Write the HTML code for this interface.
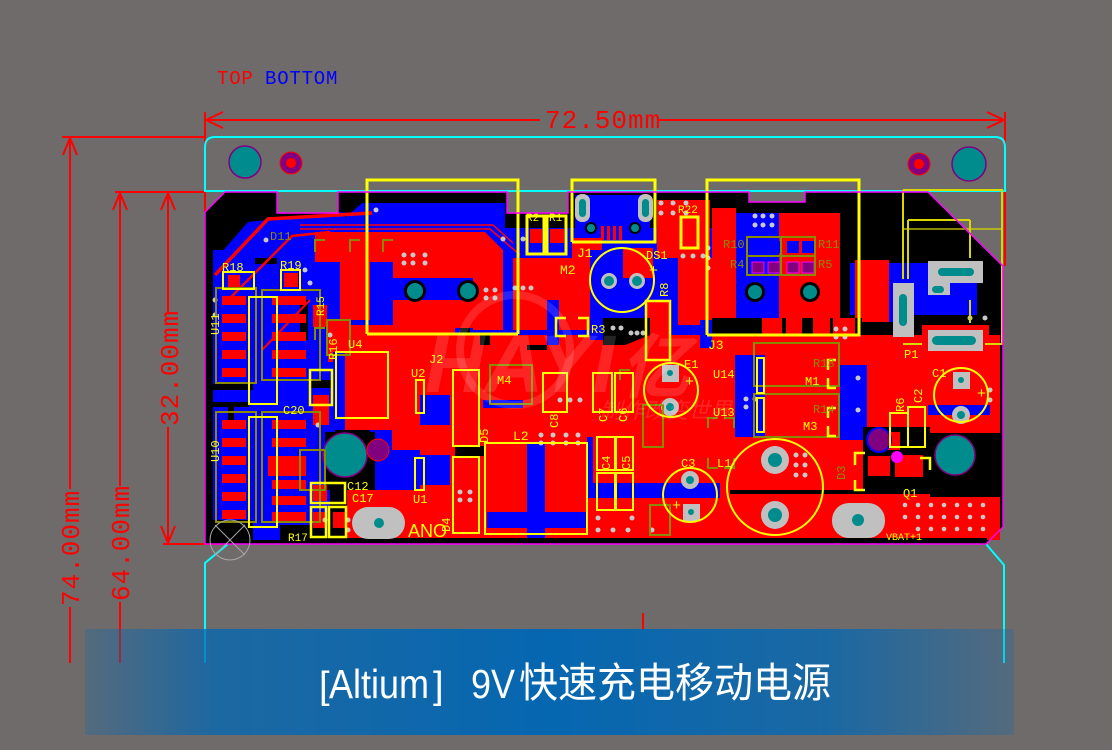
<!DOCTYPE html>
<html><head><meta charset="utf-8">
<style>
html,body{margin:0;padding:0;width:1112px;height:750px;overflow:hidden;background:#6f6b6b;}
svg{position:absolute;left:0;top:0;display:block}
</style></head><body>
<svg width="1112" height="750" viewBox="0 0 1112 750" xmlns="http://www.w3.org/2000/svg">
<defs>
<linearGradient id="bg" x1="0" y1="0" x2="1" y2="0">
<stop offset="0" stop-color="#0567b1" stop-opacity="0.25"/>
<stop offset="0.14" stop-color="#0567b1" stop-opacity="0.78"/>
<stop offset="0.5" stop-color="#0567b1" stop-opacity="1"/>
<stop offset="0.8" stop-color="#0567b1" stop-opacity="0.8"/>
<stop offset="1" stop-color="#0567b1" stop-opacity="0.25"/>
</linearGradient>
</defs>
<rect width="1112" height="750" fill="#6f6b6b"/>

<text x="217" y="84" font-family="Liberation Mono, monospace" font-size="19" fill="#ff0000" letter-spacing="0.8">TOP</text>
<text x="265" y="84" font-family="Liberation Mono, monospace" font-size="19" fill="#0000ff" letter-spacing="0.8">BOTTOM</text>

<g stroke="#ff0000" stroke-width="2" fill="none">
<line x1="205" y1="120" x2="540" y2="120"/>
<line x1="657" y1="120" x2="1005" y2="120"/>
<polyline points="223,112 206,120 223,128"/>
<polyline points="987,112 1004,120 987,128"/>
<line x1="205" y1="112" x2="205" y2="212"/>
<line x1="1005" y1="112" x2="1005" y2="266"/>
<line x1="62" y1="137" x2="205" y2="137"/>
<line x1="70" y1="137" x2="70" y2="489"/>
<line x1="70" y1="607" x2="70" y2="663"/>
<polyline points="63,155 70,138 77,155"/>
<line x1="115" y1="192" x2="205" y2="192"/>
<line x1="120" y1="192" x2="120" y2="486"/>
<line x1="120" y1="602" x2="120" y2="663"/>
<polyline points="113,210 120,193 127,210"/>
<line x1="168" y1="192" x2="168" y2="314"/>
<line x1="168" y1="427" x2="168" y2="544"/>
<polyline points="161,210 168,193 175,210"/>
<polyline points="161,526 168,543 175,526"/>
<line x1="163" y1="544" x2="228" y2="544"/>
<line x1="643" y1="613" x2="643" y2="630"/>
</g>
<g font-family="Liberation Mono, monospace" font-size="26" fill="#ff0000">
<text x="545" y="128" letter-spacing="1">72.50mm</text>
<text transform="translate(79,606) rotate(-90)" letter-spacing="1">74.00mm</text>
<text transform="translate(129,601) rotate(-90)" letter-spacing="1">64.00mm</text>
<text transform="translate(178,426) rotate(-90)" letter-spacing="1">32.00mm</text>
</g>

<g stroke="#00ffff" stroke-width="2" fill="none">
<path d="M205,192 L205,147 Q205,137 215,137 L995,137 Q1005,137 1005,147 L1005,192"/>
<line x1="205" y1="191" x2="1005" y2="191"/>
<polyline points="228,544 205,563 205,663"/>
<polyline points="986,544 1004,565 1004,663"/>
</g>
<circle cx="245" cy="162" r="16" fill="#008c8c" stroke="#800080" stroke-width="1.5"/>
<circle cx="291" cy="163" r="11" fill="#800080" stroke="#ff0000" stroke-width="1"/>
<circle cx="291" cy="163" r="5" fill="#ff0000"/>
<circle cx="919" cy="164" r="11" fill="#800080" stroke="#ff0000" stroke-width="1"/>
<circle cx="919" cy="164" r="5" fill="#ff0000"/>
<circle cx="969" cy="164" r="17" fill="#008c8c" stroke="#800080" stroke-width="1.5"/>

<polygon fill="#000" points="225,192 277,192 277,213 338,213 338,192 507,192 507,213 568,213 568,192 749,192 749,202 805,202 805,192 928,192 1003,266 1003,527 986,544 205,544 205,212"/>

<g fill="#0000ff">
<polygon points="213,262 248,222 345,212 345,250 213,250"/>
<rect x="213" y="250" width="122" height="290"/>
<polygon points="340,235 340,222 362,203 505,203 505,235"/>
<rect x="575" y="195" width="75" height="45"/>
<rect x="470" y="228" width="262" height="118"/>
<rect x="736" y="213" width="64" height="105"/>
<rect x="850" y="263" width="127" height="52"/>
<rect x="860" y="310" width="50" height="18"/>
<rect x="335" y="250" width="125" height="180"/>
<rect x="370" y="430" width="85" height="60"/>
</g>

<g fill="#000">
<rect x="213" y="384" width="40" height="6"/>
<rect x="213" y="402" width="36" height="5"/>
<rect x="213" y="520" width="40" height="20"/>
<rect x="255" y="258" width="22" height="6"/>
<rect x="300" y="300" width="8" height="40"/>
<rect x="310" y="380" width="25" height="8"/>
<rect x="280" y="525" width="55" height="15"/>
<rect x="228" y="405" width="6" height="20"/>
<rect x="325" y="432" width="50" height="58"/>
<rect x="330" y="490" width="20" height="50"/>
</g>

<g fill="#ff0000">
<polygon points="315,232 485,232 503,250 503,330 473,330 473,278 393,278 393,262 370,262 370,320 340,320 340,262 315,262"/>
<rect x="393" y="300" width="80" height="28"/>
<rect x="530" y="229" width="12" height="14"/>
<rect x="550" y="229" width="14" height="14"/>
<rect x="513" y="258" width="77" height="72"/>
<rect x="572" y="238" width="30" height="62"/>
<rect x="623" y="248" width="30" height="30"/>
<rect x="646" y="300" width="24" height="60"/>
<rect x="657" y="200" width="53" height="58"/>
<rect x="678" y="258" width="34" height="67"/>
<rect x="712" y="208" width="24" height="110"/>
<rect x="779" y="213" width="61" height="109"/>
<rect x="855" y="260" width="34" height="62"/>
<rect x="922" y="325" width="67" height="35"/>
<rect x="840" y="323" width="41" height="22"/>
<rect x="328" y="320" width="22" height="42"/>
<rect x="345" y="325" width="110" height="105"/>
<rect x="392" y="420" width="55" height="30"/>
<rect x="347" y="490" width="106" height="54"/>
<rect x="420" y="335" width="580" height="205"/>
<rect x="880" y="335" width="120" height="10"/>
<rect x="222" y="296" width="24" height="9"/><rect x="272" y="296" width="34" height="9"/>
<rect x="222" y="314" width="24" height="9"/><rect x="272" y="314" width="34" height="9"/>
<rect x="222" y="332" width="24" height="9"/><rect x="272" y="332" width="34" height="9"/>
<rect x="222" y="350" width="24" height="9"/><rect x="272" y="350" width="34" height="9"/>
<rect x="222" y="368" width="24" height="9"/><rect x="272" y="368" width="34" height="9"/>
<rect x="222" y="420" width="24" height="9"/><rect x="272" y="420" width="34" height="9"/>
<rect x="222" y="438" width="24" height="9"/><rect x="272" y="438" width="34" height="9"/>
<rect x="222" y="456" width="24" height="9"/><rect x="268" y="456" width="38" height="20"/>
<rect x="222" y="474" width="24" height="9"/><rect x="272" y="480" width="34" height="9"/>
<rect x="222" y="492" width="24" height="9"/><rect x="272" y="496" width="34" height="9"/>
<rect x="222" y="510" width="24" height="9"/><rect x="272" y="512" width="34" height="9"/>
<rect x="228" y="275" width="12" height="12"/>
<rect x="284" y="273" width="14" height="14"/>
<rect x="313" y="305" width="14" height="22"/>
<rect x="313" y="395" width="16" height="30"/>
<rect x="313" y="485" width="14" height="16"/>
<rect x="313" y="512" width="14" height="16"/>
<rect x="333" y="512" width="12" height="16"/>
</g>
<g stroke="#ff0000" fill="none">
<polyline points="215,275 268,219 372,213" stroke-width="3.5"/>
<polyline points="228,300 292,236 330,232" stroke-width="2.5"/>
<polyline points="300,225 493,225 513,243" stroke-width="1.5"/>
<polyline points="300,229 490,229 520,255" stroke-width="1.5"/>
<line x1="262" y1="350" x2="310" y2="300" stroke-width="2"/>
</g>

<g fill="#0000ff">
<rect x="375" y="278" width="98" height="22"/>
<rect x="333" y="352" width="12" height="66"/>
<rect x="420" y="395" width="30" height="30"/>
<rect x="395" y="455" width="55" height="30"/>
<rect x="547" y="300" width="12" height="45"/>
<rect x="590" y="250" width="33" height="90"/>
<rect x="653" y="258" width="25" height="40"/>
<rect x="527" y="443" width="18" height="97"/>
<rect x="487" y="512" width="100" height="16"/>
<rect x="587" y="483" width="133" height="15"/>
<rect x="735" y="355" width="30" height="82"/>
<rect x="840" y="365" width="27" height="75"/>
<rect x="928" y="405" width="62" height="10"/>
<rect x="587" y="437" width="6" height="60"/>
<rect x="700" y="320" width="12" height="28"/>
<rect x="483" y="400" width="40" height="8"/>
</g>

<g fill="#000">
<rect x="863" y="427" width="67" height="63"/>
<rect x="930" y="433" width="70" height="64"/>
<rect x="730" y="490" width="270" height="4"/>
<rect x="347" y="538" width="640" height="6"/>
<rect x="840" y="322" width="82" height="13"/>
<rect x="712" y="318" width="150" height="17"/>
<polygon points="603,318 650,318 650,335 625,345 603,345"/>
<rect x="455" y="446" width="30" height="10"/>
<rect x="480" y="335" width="10" height="10"/>
<rect x="527" y="345" width="20" height="5"/>
</g>
<g fill="#ff0000">
<rect x="762" y="318" width="20" height="30"/><rect x="786" y="318" width="16" height="30"/>
<rect x="813" y="318" width="17" height="30"/><rect x="833" y="318" width="22" height="30"/>
<rect x="868" y="456" width="22" height="20"/><rect x="880" y="432" width="20" height="18"/>
<rect x="895" y="455" width="28" height="22"/>
</g>

<g>
<circle cx="415" cy="291" r="11" fill="#000"/><circle cx="415" cy="291" r="8" fill="#008c8c"/>
<circle cx="468" cy="291" r="11" fill="#000"/><circle cx="468" cy="291" r="8" fill="#008c8c"/>
<circle cx="755" cy="292" r="10" fill="#000"/><circle cx="755" cy="292" r="7" fill="#008c8c"/>
<circle cx="810" cy="292" r="10" fill="#000"/><circle cx="810" cy="292" r="7" fill="#008c8c"/>
<rect x="575" y="194" width="15" height="28" rx="7" fill="#c0c0c0"/><rect x="579" y="199" width="7" height="18" rx="3.5" fill="#008c8c"/>
<rect x="638" y="194" width="15" height="28" rx="7" fill="#c0c0c0"/><rect x="642" y="199" width="7" height="18" rx="3.5" fill="#008c8c"/>
<circle cx="591" cy="228" r="6" fill="#000"/><circle cx="591" cy="228" r="4" fill="#008c8c"/>
<circle cx="635" cy="228" r="6" fill="#000"/><circle cx="635" cy="228" r="4" fill="#008c8c"/>
<rect x="601" y="226" width="3" height="14" fill="#ff0000"/><rect x="607" y="226" width="3" height="14" fill="#ff0000"/><rect x="613" y="226" width="3" height="14" fill="#ff0000"/><rect x="619" y="226" width="3" height="14" fill="#ff0000"/>
<circle cx="609" cy="281" r="8" fill="#c0c0c0"/><circle cx="609" cy="281" r="5" fill="#008c8c"/>
<circle cx="637" cy="281" r="8" fill="#c0c0c0"/><circle cx="637" cy="281" r="5" fill="#008c8c"/>
<circle cx="345" cy="455" r="22" fill="#008c8c" stroke="#800080" stroke-width="1.5"/>
<circle cx="378" cy="450" r="11" fill="#800080" stroke="#ff0000" stroke-width="1"/>
<rect x="352" y="507" width="53" height="32" rx="16" fill="#c0c0c0"/><circle cx="379" cy="523" r="5" fill="#008c8c"/>
<rect x="832" y="503" width="53" height="35" rx="17" fill="#c0c0c0"/><circle cx="858" cy="520" r="6" fill="#008c8c"/>
<circle cx="775" cy="460" r="14" fill="#c0c0c0"/><circle cx="775" cy="460" r="7" fill="#008c8c"/>
<circle cx="775" cy="515" r="14" fill="#c0c0c0"/><circle cx="775" cy="515" r="7" fill="#008c8c"/>
<rect x="662" y="365" width="17" height="17" fill="#c0c0c0"/><circle cx="670" cy="373" r="3" fill="#008c8c"/>
<circle cx="670" cy="407" r="9" fill="#c0c0c0"/><circle cx="670" cy="407" r="4" fill="#008c8c"/>
<circle cx="690" cy="480" r="9" fill="#c0c0c0"/><circle cx="690" cy="480" r="4" fill="#008c8c"/>
<rect x="683" y="504" width="17" height="17" fill="#c0c0c0"/><circle cx="691" cy="512" r="3" fill="#008c8c"/>
<rect x="953" y="372" width="17" height="17" fill="#c0c0c0"/><circle cx="961" cy="380" r="3" fill="#008c8c"/>
<circle cx="961" cy="415" r="9" fill="#c0c0c0"/><circle cx="961" cy="415" r="4" fill="#008c8c"/>
<circle cx="955" cy="455" r="20" fill="#008c8c" stroke="#800080" stroke-width="1.5"/>
<circle cx="879" cy="440" r="12" fill="#800080" stroke="#0000ff" stroke-width="2"/>
<circle cx="897" cy="457" r="6" fill="#ff00ff"/>
<rect x="893" y="283" width="21" height="54" fill="#c0c0c0"/><rect x="899" y="294" width="8" height="32" rx="4" fill="#008c8c"/>
<rect x="928" y="261" width="55" height="22" fill="#c0c0c0"/><rect x="938" y="268" width="36" height="8" rx="4" fill="#008c8c"/>
<rect x="928" y="283" width="22" height="12" fill="#c0c0c0"/><rect x="932" y="286" width="12" height="7" rx="3.5" fill="#008c8c"/>
<rect x="928" y="330" width="55" height="21" fill="#c0c0c0"/><rect x="932" y="336" width="44" height="9" rx="4.5" fill="#008c8c"/>
<rect x="752" y="241" width="12" height="12" fill="#0000ff"/><rect x="768" y="241" width="12" height="12" fill="#0000ff"/>
<rect x="787" y="241" width="12" height="12" fill="#0000ff"/><rect x="802" y="241" width="12" height="12" fill="#0000ff"/>
<rect x="752" y="262" width="12" height="11" fill="#800080" stroke="#ff00ff"/><rect x="768" y="262" width="12" height="11" fill="#800080" stroke="#ff00ff"/>
<rect x="787" y="262" width="12" height="11" fill="#800080" stroke="#ff00ff"/><rect x="802" y="262" width="12" height="11" fill="#800080" stroke="#ff00ff"/>
</g>

<g fill="#c8c8c8">
<circle cx="661" cy="203" r="2.5"/><circle cx="673" cy="203" r="2.5"/><circle cx="686" cy="203" r="2.5"/>
<circle cx="661" cy="213" r="2.5"/><circle cx="673" cy="213" r="2.5"/><circle cx="686" cy="213" r="2.5"/>
<circle cx="755" cy="216" r="2.5"/><circle cx="763" cy="216" r="2.5"/><circle cx="772" cy="216" r="2.5"/>
<circle cx="755" cy="225" r="2.5"/><circle cx="763" cy="225" r="2.5"/><circle cx="772" cy="225" r="2.5"/>
<circle cx="708" cy="248" r="2.5"/><circle cx="708" cy="258" r="2.5"/><circle cx="708" cy="268" r="2.5"/>
<circle cx="683" cy="256" r="2.5"/><circle cx="693" cy="256" r="2.5"/><circle cx="703" cy="256" r="2.5"/>
<circle cx="404" cy="255" r="2.5"/><circle cx="413" cy="255" r="2.5"/><circle cx="425" cy="255" r="2.5"/>
<circle cx="404" cy="263" r="2.5"/><circle cx="413" cy="263" r="2.5"/><circle cx="425" cy="263" r="2.5"/>
<circle cx="486" cy="290" r="2.5"/><circle cx="495" cy="290" r="2.5"/><circle cx="486" cy="298" r="2.5"/><circle cx="495" cy="298" r="2.5"/>
<circle cx="376" cy="210" r="2.5"/><circle cx="503" cy="239" r="2.5"/><circle cx="523" cy="239" r="2.5"/>
<circle cx="515" cy="288" r="2.5"/><circle cx="523" cy="288" r="2.5"/><circle cx="531" cy="288" r="2.5"/>
<circle cx="643" cy="333" r="2.5"/><circle cx="637" cy="333" r="2.5"/><circle cx="631" cy="333" r="2.5"/>
<circle cx="613" cy="328" r="2.5"/><circle cx="621" cy="328" r="2.5"/>
<circle cx="836" cy="329" r="2.5"/><circle cx="845" cy="329" r="2.5"/><circle cx="836" cy="337" r="2.5"/><circle cx="845" cy="337" r="2.5"/>
<circle cx="746" cy="399" r="2.5"/><circle cx="755" cy="399" r="2.5"/><circle cx="746" cy="407" r="2.5"/>
<circle cx="796" cy="455" r="2.5"/><circle cx="805" cy="455" r="2.5"/><circle cx="796" cy="465" r="2.5"/><circle cx="805" cy="465" r="2.5"/>
<circle cx="796" cy="475" r="2.5"/><circle cx="805" cy="475" r="2.5"/>
<circle cx="598" cy="530" r="2.5"/><circle cx="613" cy="530" r="2.5"/><circle cx="628" cy="530" r="2.5"/>
<circle cx="598" cy="518" r="2.5"/><circle cx="632" cy="518" r="2.5"/><circle cx="652" cy="530" r="2.5"/>
<circle cx="541" cy="435" r="2.5"/><circle cx="553" cy="435" r="2.5"/><circle cx="566" cy="435" r="2.5"/><circle cx="578" cy="435" r="2.5"/>
<circle cx="541" cy="443" r="2.5"/><circle cx="553" cy="443" r="2.5"/><circle cx="566" cy="443" r="2.5"/><circle cx="578" cy="443" r="2.5"/>
<circle cx="460" cy="492" r="2.5"/><circle cx="470" cy="492" r="2.5"/><circle cx="460" cy="500" r="2.5"/><circle cx="470" cy="500" r="2.5"/>
<circle cx="560" cy="400" r="2.5"/><circle cx="570" cy="400" r="2.5"/><circle cx="580" cy="400" r="2.5"/>
<circle cx="858" cy="378" r="2.5"/><circle cx="858" cy="410" r="2.5"/>
<circle cx="970" cy="318" r="2.5"/><circle cx="985" cy="318" r="2.5"/><circle cx="990" cy="390" r="2.5"/><circle cx="990" cy="400" r="2.5"/>
<circle cx="215" cy="300" r="2.5"/><circle cx="215" cy="315" r="2.5"/>
<circle cx="266" cy="240" r="2.5"/><circle cx="305" cy="270" r="2.5"/><circle cx="310" cy="283" r="2.5"/>
<circle cx="330" cy="335" r="2.5"/><circle cx="318" cy="425" r="2.5"/><circle cx="325" cy="520" r="2.5"/>
<circle cx="348" cy="520" r="2.5"/><circle cx="348" cy="530" r="2.5"/>
</g>
<g fill="#c8c8c8">
<circle cx="905" cy="505" r="2.3"/><circle cx="918" cy="505" r="2.3"/><circle cx="931" cy="505" r="2.3"/><circle cx="944" cy="505" r="2.3"/><circle cx="957" cy="505" r="2.3"/><circle cx="970" cy="505" r="2.3"/><circle cx="983" cy="505" r="2.3"/>
<circle cx="905" cy="517" r="2.3"/><circle cx="918" cy="517" r="2.3"/><circle cx="931" cy="517" r="2.3"/><circle cx="944" cy="517" r="2.3"/><circle cx="957" cy="517" r="2.3"/><circle cx="970" cy="517" r="2.3"/><circle cx="983" cy="517" r="2.3"/>
<circle cx="918" cy="529" r="2.3"/><circle cx="931" cy="529" r="2.3"/><circle cx="944" cy="529" r="2.3"/><circle cx="957" cy="529" r="2.3"/><circle cx="970" cy="529" r="2.3"/><circle cx="983" cy="529" r="2.3"/>
</g>

<g stroke="#8a8a00" stroke-width="2" fill="none">
<rect x="754" y="343" width="85" height="43"/>
<rect x="754" y="394" width="85" height="43"/>
<rect x="490" y="365" width="42" height="39"/>
<rect x="747" y="237" width="34" height="38"/>
<rect x="781" y="237" width="34" height="38"/>
<line x1="747" y1="256" x2="815" y2="256"/>
<rect x="216" y="288" width="40" height="95"/>
<rect x="216" y="412" width="40" height="110"/>
<rect x="262" y="290" width="58" height="90"/>
<rect x="262" y="412" width="58" height="110"/>
<rect x="327" y="320" width="23" height="35"/>
<rect x="300" y="450" width="25" height="40"/>
<rect x="643" y="405" width="20" height="42"/>
<rect x="650" y="505" width="20" height="30"/>
<path d="M708,428 v-10 h10 M734,428 v-10 h-10 M708,458 v10 h10 M734,458 v10 h-10"/>
<path d="M620,380 v-10 h10"/>
<path d="M315,252 v-12 h10 M350,252 v-12 h10 M383,252 v-12 h10 M315,340 v-12 h10"/>
</g>

<g stroke="#ffff00" stroke-width="3" fill="none">
<polyline points="367,334 367,180 518,180 518,334"/>
<line x1="367" y1="334" x2="518" y2="334"/>
<polyline points="572,242 572,180 655,180 655,242 572,242"/>
<polyline points="707,335 707,180 859,180 859,335 707,335"/>
<rect x="527" y="216" width="17" height="38"/>
<rect x="547" y="216" width="19" height="38"/>
<rect x="681" y="217" width="17" height="31"/>
<rect x="646" y="301" width="24" height="59" stroke-width="2.5"/>
<path d="M566,318 h-10 v18 h10 M578,318 h10 v18 h-10" stroke-width="2.5"/>
<rect x="453" y="370" width="26" height="76" stroke-width="2"/>
<rect x="453" y="457" width="26" height="76" stroke-width="2"/>
<rect x="485" y="443" width="102" height="91" stroke-width="2"/>
<rect x="336" y="352" width="52" height="66" stroke-width="2"/>
<rect x="249" y="297" width="28" height="107" stroke-width="2"/>
<rect x="249" y="417" width="28" height="110" stroke-width="2"/>
<rect x="223" y="272" width="31" height="17" stroke-width="2"/>
<rect x="281" y="270" width="19" height="20" stroke-width="2"/>
<rect x="311" y="483" width="34" height="20" stroke-width="2.5"/>
<rect x="311" y="507" width="15" height="30" stroke-width="2.5"/>
<rect x="329" y="507" width="17" height="30" stroke-width="2.5"/>
<rect x="310" y="370" width="22" height="35" stroke-width="2.5"/>
<rect x="416" y="380" width="8" height="33" stroke-width="2"/>
<rect x="415" y="458" width="9" height="32" stroke-width="2"/>
<rect x="593" y="373" width="19" height="39" stroke-width="2"/>
<rect x="615" y="373" width="18" height="39" stroke-width="2"/>
<rect x="597" y="437" width="18" height="33" stroke-width="2"/>
<rect x="616" y="437" width="17" height="33" stroke-width="2"/>
<rect x="597" y="473" width="18" height="37" stroke-width="2"/>
<rect x="616" y="473" width="17" height="37" stroke-width="2"/>
<rect x="543" y="373" width="24" height="39" stroke-width="2"/>
<rect x="757" y="358" width="7" height="35" stroke-width="2"/>
<rect x="757" y="398" width="7" height="34" stroke-width="2"/>
<path d="M836,360 h-8 v10 M836,388 h-8 v-10 M836,408 h-8 v10 M836,436 h-8 v-10" stroke-width="2.5"/>
<rect x="890" y="413" width="18" height="34" stroke-width="2"/>
<rect x="908" y="407" width="17" height="40" stroke-width="2"/>
<path d="M855,465 v-12 h10 M920,458 h10 v12 M855,480 v10 h10" stroke-width="2.5"/>
<circle cx="622" cy="280" r="32" stroke-width="2"/>
<circle cx="671" cy="390" r="27" stroke-width="2"/>
<circle cx="690" cy="495" r="27" stroke-width="2"/>
<circle cx="775" cy="487" r="48" stroke-width="2"/>
<circle cx="961" cy="395" r="27" stroke-width="2"/>
</g>
<g stroke="#d8d800" stroke-width="2" fill="none">
<line x1="903" y1="190" x2="903" y2="279"/>
<line x1="908" y1="220" x2="908" y2="279"/>
<line x1="903" y1="190" x2="1003" y2="190"/>
<line x1="908" y1="220" x2="970" y2="220"/>
<line x1="903" y1="229" x2="1003" y2="229" stroke-width="1.2"/>
<line x1="970" y1="220" x2="970" y2="258"/>
<line x1="970" y1="300" x2="970" y2="323"/>
<line x1="1002" y1="190" x2="1002" y2="345"/>
<line x1="903" y1="344" x2="922" y2="344"/>
<line x1="985" y1="344" x2="1003" y2="344"/>
</g>

<g font-family="Liberation Mono, monospace" fill="#ffff00" font-size="12">
<text x="526" y="221" font-size="11">R2</text>
<text x="549" y="221" font-size="11">R1</text>
<text x="577" y="257" font-size="13">J1</text>
<text x="560" y="274" font-size="13">M2</text>
<text x="646" y="259">DS1</text>
<text x="649" y="275" font-size="15">+</text>
<text x="678" y="213" font-size="11">R22</text>
<text transform="translate(668,297) rotate(-90)">R8</text>
<text x="591" y="333">R3</text>
<text x="708" y="349" font-size="13">J3</text>
<text x="904" y="358">P1</text>
<text x="713" y="378">U14</text>
<text x="713" y="416">U13</text>
<text x="805" y="385">M1</text>
<text x="803" y="430">M3</text>
<text x="684" y="368">E1</text>
<text x="685" y="386" font-size="15">+</text>
<text x="681" y="467">C3</text>
<text x="717" y="467">L1</text>
<text x="672" y="510" font-size="15">+</text>
<text x="932" y="377">C1</text>
<text x="977" y="398" font-size="15">+</text>
<text transform="translate(922,403) rotate(-90)">C2</text>
<text transform="translate(904,412) rotate(-90)">R6</text>
<text x="903" y="497">Q1</text>
<text x="886" y="540" font-size="10">VBAT+1</text>
<text x="408" y="537" font-size="18" font-family="Liberation Sans, sans-serif">ANO</text>
<text x="513" y="440" font-size="13">L2</text>
<text transform="translate(558,428) rotate(-90)">C8</text>
<text x="411" y="377">U2</text>
<text x="413" y="503">U1</text>
<text x="497" y="384">M4</text>
<text x="429" y="363">J2</text>
<text transform="translate(488,443) rotate(-90)">D5</text>
<text transform="translate(450,532) rotate(-90)">D4</text>
<text x="347" y="490">C12</text>
<text x="352" y="502">C17</text>
<text x="288" y="541" font-size="11">R17</text>
<text x="283" y="414">C20</text>
<text x="222" y="271">R18</text>
<text x="280" y="269">R19</text>
<text x="348" y="348">U4</text>
<text transform="translate(337,360) rotate(-90)">R16</text>
<text transform="translate(324,316) rotate(-90)" font-size="11">R15</text>
<text transform="translate(219,335) rotate(-90)">U11</text>
<text transform="translate(219,462) rotate(-90)">U10</text>
<text transform="translate(607,422) rotate(-90)">C7</text>
<text transform="translate(627,422) rotate(-90)">C6</text>
<text transform="translate(610,470) rotate(-90)">C4</text>
<text transform="translate(630,470) rotate(-90)">C5</text>
</g>
<g font-family="Liberation Mono, monospace" fill="#8a8a00" font-size="12">
<text x="723" y="248">R10</text>
<text x="818" y="248">R11</text>
<text x="730" y="268">R4</text>
<text x="818" y="268">R5</text>
<text x="813" y="367">R13</text>
<text x="813" y="413">R14</text>
<text x="270" y="240">D11</text>
<text transform="translate(845,480) rotate(-90)">D3</text>
</g>

<g opacity="0.14" fill="#ffffff">
<text x="425" y="392" font-family="Liberation Sans, sans-serif" font-size="82" font-style="italic" font-weight="bold">HAYI</text>
<text x="620" y="392" font-family="Liberation Sans, 'Noto Sans CJK SC', sans-serif" font-size="70" font-style="italic" font-weight="bold">亿</text>
<text x="600" y="418" font-family="'Noto Sans CJK SC', sans-serif" font-size="22" font-style="italic">制作改变世界</text>
</g>
<circle cx="515" cy="350" r="55" fill="none" stroke="#ffffff" stroke-opacity="0.14" stroke-width="8"/>

<polygon fill="none" stroke="#ff00ff" stroke-width="1.5" points="225,192 277,192 277,213 338,213 338,192 507,192 507,213 568,213 568,192 749,192 749,202 805,202 805,192 928,192 1003,266 1003,527 986,544 205,544 205,212"/>
<circle cx="230" cy="540" r="20" fill="none" stroke="#a8a8a8" stroke-width="1"/>
<line x1="215" y1="525" x2="245" y2="555" stroke="#a8a8a8"/>
<line x1="245" y1="525" x2="215" y2="555" stroke="#a8a8a8"/>

<rect x="85" y="629" width="929" height="106" fill="url(#bg)"/>
<g fill="#ffffff">
<text x="319" y="698" font-family="Liberation Sans, sans-serif" font-size="38">[</text>
<text x="329" y="698" font-family="Liberation Sans, sans-serif" font-size="41" textLength="100" lengthAdjust="spacingAndGlyphs">Altium</text>
<text x="433" y="698" font-family="Liberation Sans, sans-serif" font-size="38">]</text>
<text x="471" y="698" font-family="Liberation Sans, sans-serif" font-size="41" textLength="44" lengthAdjust="spacingAndGlyphs">9V</text>
<text x="519" y="697" font-family="Liberation Sans, 'Noto Sans CJK SC', sans-serif" font-size="41" textLength="312" lengthAdjust="spacingAndGlyphs">快速充电移动电源</text>
</g>
</svg>
</body></html>
